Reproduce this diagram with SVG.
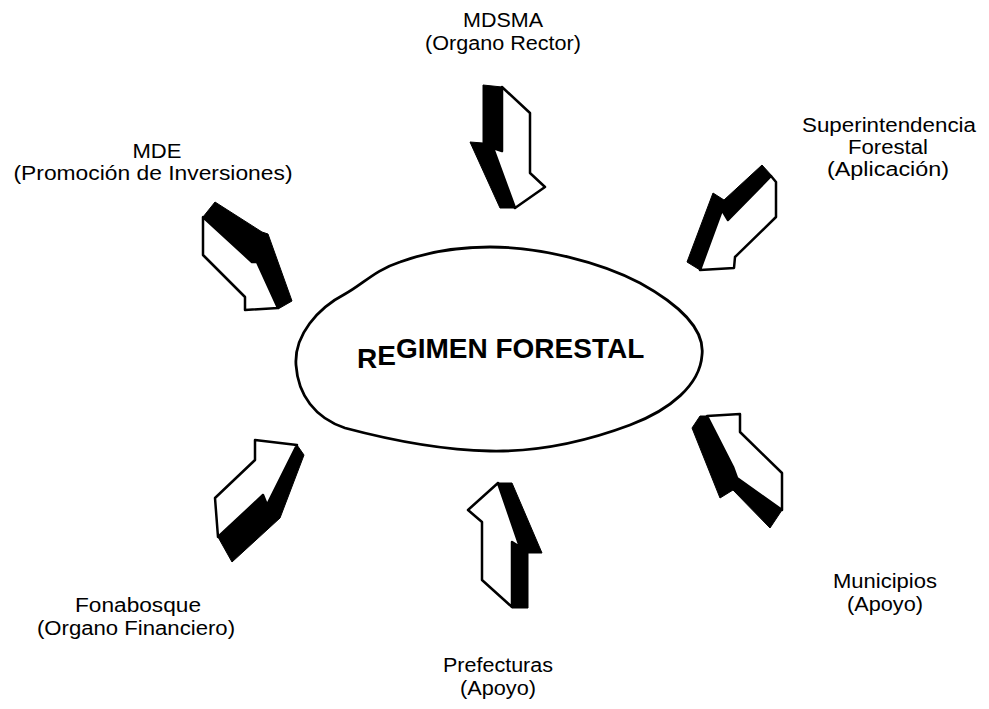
<svg xmlns="http://www.w3.org/2000/svg" width="989" height="709" viewBox="0 0 989 709">
<style>
  .lbl { font-family: "Liberation Sans", Arial, sans-serif; font-size: 20px; fill: #000; text-anchor: middle; }
  .title { font-family: "Liberation Sans", Arial, sans-serif; font-size: 28px; font-weight: bold; fill: #000; }
  .face { fill: #fff; stroke: #000; stroke-width: 2.5; stroke-linejoin: round; }
  .side { fill: #000; stroke: #000; stroke-width: 1; stroke-linejoin: round; }
</style>
<rect width="989" height="709" fill="#fff"/>

<g id="regimen-forestal">
  <path d="M 296,365 C 294,335 318,308 345,294 C 362,285 375,270 400,262 C 430,251 460,247 490,247 C 540,247 600,262 640,283 C 680,305 705,330 702,355 C 700,385 670,410 630,425 C 590,440 540,452 490,451 C 440,450 390,440 345,428 C 315,418 298,395 296,365 Z" fill="#fff" stroke="#000" stroke-width="2.8"/>
  <text class="title"><tspan x="357" y="368">R</tspan><tspan y="365">E</tspan><tspan y="358">GIMEN FORESTAL</tspan></text>
</g>

<g id="mdsma">
  <text class="lbl" x="503" y="27" textLength="80" lengthAdjust="spacingAndGlyphs">MDSMA</text>
  <text class="lbl" x="503" y="50" textLength="156" lengthAdjust="spacingAndGlyphs">(Organo Rector)</text>
</g>

<g id="mde">
  <text class="lbl" x="157" y="158" textLength="49" lengthAdjust="spacingAndGlyphs">MDE</text>
  <text class="lbl" x="153" y="180" textLength="279" lengthAdjust="spacingAndGlyphs">(Promoción de Inversiones)</text>
</g>

<g id="superintendencia">
  <text class="lbl" x="889" y="132" textLength="174" lengthAdjust="spacingAndGlyphs">Superintendencia</text>
  <text class="lbl" x="888" y="154" textLength="80" lengthAdjust="spacingAndGlyphs">Forestal</text>
  <text class="lbl" x="888" y="176" textLength="122" lengthAdjust="spacingAndGlyphs">(Aplicación)</text>
</g>

<g id="fonabosque">
  <text class="lbl" x="138" y="612" textLength="126" lengthAdjust="spacingAndGlyphs">Fonabosque</text>
  <text class="lbl" x="136" y="635" textLength="198" lengthAdjust="spacingAndGlyphs">(Organo Financiero)</text>
</g>

<g id="prefecturas">
  <text class="lbl" x="498" y="672" textLength="110" lengthAdjust="spacingAndGlyphs">Prefecturas</text>
  <text class="lbl" x="498" y="695" textLength="76" lengthAdjust="spacingAndGlyphs">(Apoyo)</text>
</g>

<g id="municipios">
  <text class="lbl" x="885" y="588" textLength="104" lengthAdjust="spacingAndGlyphs">Municipios</text>
  <text class="lbl" x="885" y="611" textLength="76" lengthAdjust="spacingAndGlyphs">(Apoyo)</text>
</g>

<g id="connectors">
  <g id="arrow-mdsma">
    <polygon class="side" points="483,85 502,87 502,150 493,148 515,208 500,208 470,142 483,143"/>
    <polygon class="face" points="502,87 530,113 530,173 545,187 515,208 493,148 502,151"/>
  </g>
  <g id="arrow-mde">
    <polygon class="side" points="215,202 262,232 268,234 292,301 278,309 257,262 252,262 203,217"/>
    <polygon class="face" points="203,217 203,255 245,297 245,310 278,308 257,262 252,262"/>
  </g>
  <g id="arrow-superintendencia">
    <polygon class="side" points="762,165 772,176 728,220 722,210 700,270 687,262 713,193 724,200"/>
    <polygon class="face" points="771,176 776,182 776,217 735,257 734,268 700,270 722,210 728,220"/>
  </g>
  <g id="arrow-fonabosque">
    <polygon class="side" points="297,445 304,455 280,518 232,562 218,537 263,495 267,505"/>
    <polygon class="face" points="218,537 215,498 255,460 255,440 297,445 267,505 263,495"/>
  </g>
  <g id="arrow-prefecturas">
    <polygon class="side" points="498,483 512,483 542,553 528,553 528,608 512,608 512,542 520,547"/>
    <polygon class="face" points="498,483 468,510 482,522 482,580 512,607 512,542 520,547"/>
  </g>
  <g id="arrow-municipios">
    <polygon class="side" points="700,416 707,416 733,467 737,478 782,510 770,528 733,490 720,498 692,428"/>
    <polygon class="face" points="707,416 740,414 740,432 782,473 782,510 737,478 733,467"/>
  </g>
</g>
</svg>
